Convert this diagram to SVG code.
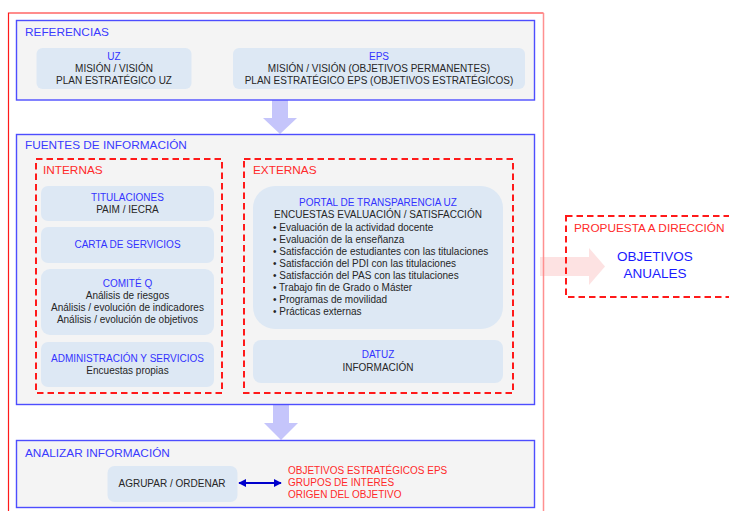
<svg xmlns="http://www.w3.org/2000/svg" width="729" height="511" viewBox="0 0 729 511">
<style>
text{font-family:"Liberation Sans",Arial,sans-serif;font-size:10px;fill:#262626}
.sec{fill:#f4f4f4;stroke:#4d4dff;stroke-width:1.4}
.node{fill:#dde8f4}
.dash{fill:none;stroke:#ff1a1a;stroke-width:2;stroke-dasharray:6.5,4}
.ttl{font-size:11.8px;fill:#3a3aff}
.nt{fill:#3333ff}
.c{text-anchor:middle}
.red{fill:#ff2a2a}
.big{font-size:11.8px;fill:#ff2a2a}
.flow{fill:#c5c5fb}
</style>
<defs>
<marker id="ah" viewBox="0 0 10 10" refX="9" refY="5" markerWidth="4" markerHeight="4" orient="auto-start-reverse">
<path d="M0,0 L10,5 L0,10 z" fill="#0000cc"/>
</marker>
</defs>
<g id="flows">
<path class="flow" d="M272,100 H288 V118 H297 L280,134 L263,118 H272 Z"/>
<path class="flow" d="M273,405 H289 V423 H298 L281,440 L264,423 H273 Z"/>
<path fill="#fde2e2" d="M540,257 H589 V248 L605,266.5 L589,285 V276 H540 Z"/>
</g>
<g id="outer">
<path d="M8.5,515 V13 H543.5" fill="none" stroke="#ff1a1a" stroke-width="1.2"/>
<line x1="543.5" y1="13" x2="543.5" y2="515" stroke="#ff9090" stroke-width="1.5"/>
</g>
<g id="referencias">
<rect class="sec" x="16.5" y="20.5" width="518" height="79.5"/>
<text class="ttl" x="25" y="36">REFERENCIAS</text>
</g>
<g id="uz">
<rect class="node" x="36.5" y="48" width="155" height="41" rx="6"/>
<text class="c nt" x="114" y="60">UZ</text>
<text class="c" x="114" y="72">MISIÓN / VISIÓN</text>
<text class="c" x="114" y="84">PLAN ESTRATÉGICO UZ</text>
</g>
<g id="eps">
<rect class="node" x="233" y="48" width="292" height="41" rx="6"/>
<text class="c nt" x="379" y="60">EPS</text>
<text class="c" x="379" y="72">MISIÓN / VISIÓN (OBJETIVOS PERMANENTES)</text>
<text class="c" x="379" y="84">PLAN ESTRATÉGICO EPS (OBJETIVOS ESTRATÉGICOS)</text>
</g>
<g id="fuentes">
<rect class="sec" x="16.5" y="134.5" width="518" height="270"/>
<text class="ttl" x="25" y="149">FUENTES DE INFORMACIÓN</text>
</g>
<g id="internas">
<rect class="dash" x="36" y="159" width="186" height="234"/>
<text class="big" x="43" y="174">INTERNAS</text>
</g>
<g id="titulaciones">
<rect class="node" x="41" y="186" width="173" height="35" rx="7"/>
<text class="c nt" x="127.5" y="201">TITULACIONES</text>
<text class="c" x="127.5" y="213">PAIM / IECRA</text>
</g>
<g id="carta">
<rect class="node" x="41" y="227" width="173" height="36" rx="7"/>
<text class="c nt" x="127.5" y="248">CARTA DE SERVICIOS</text>
</g>
<g id="comite">
<rect class="node" x="41" y="269" width="173" height="66" rx="9"/>
<text class="c nt" x="127.5" y="287">COMITÉ Q</text>
<text class="c" x="127.5" y="299">Análisis de riesgos</text>
<text class="c" x="127.5" y="311">Análisis / evolución de indicadores</text>
<text class="c" x="127.5" y="323">Análisis / evolución de objetivos</text>
</g>
<g id="admin">
<rect class="node" x="41" y="342" width="173" height="45" rx="7"/>
<text class="c nt" x="127.5" y="362">ADMINISTRACIÓN Y SERVICIOS</text>
<text class="c" x="127.5" y="374">Encuestas propias</text>
</g>
<g id="externas">
<rect class="dash" x="244" y="159" width="269" height="234"/>
<text class="big" x="253" y="174">EXTERNAS</text>
</g>
<g id="portal">
<rect class="node" x="253" y="186" width="250" height="143" rx="22"/>
<text class="c nt" x="378" y="206">PORTAL DE TRANSPARENCIA UZ</text>
<text class="c" x="378" y="218">ENCUESTAS EVALUACIÓN / SATISFACCIÓN</text>
<text x="273" y="231">• Evaluación de la actividad docente</text>
<text x="273" y="243">• Evaluación de la enseñanza</text>
<text x="273" y="255">• Satisfacción de estudiantes con las titulaciones</text>
<text x="273" y="267">• Satisfacción del PDI con las titulaciones</text>
<text x="273" y="279">• Satisfacción del PAS con las titulaciones</text>
<text x="273" y="291">• Trabajo fin de Grado o Máster</text>
<text x="273" y="303">• Programas de movilidad</text>
<text x="273" y="315">• Prácticas externas</text>
</g>
<g id="datuz">
<rect class="node" x="253" y="340" width="250" height="43" rx="8"/>
<text class="c nt" x="378" y="358">DATUZ</text>
<text class="c" x="378" y="371">INFORMACIÓN</text>
</g>
<g id="propuesta">
<rect class="dash" x="566" y="216" width="200" height="81"/>
<text class="big" x="574" y="232">PROPUESTA A DIRECCIÓN</text>
<text class="c" x="655" y="261" style="font-size:13.5px;fill:#1a1aff">OBJETIVOS</text>
<text class="c" x="655" y="278" style="font-size:13.5px;fill:#1a1aff">ANUALES</text>
</g>
<g id="analizar">
<rect class="sec" x="16.5" y="440.5" width="518" height="67"/>
<text class="ttl" x="25" y="457">ANALIZAR INFORMACIÓN</text>
</g>
<g id="agrupar">
<rect class="node" x="107.5" y="466" width="130" height="36" rx="7"/>
<text class="c" x="172" y="487">AGRUPAR / ORDENAR</text>
</g>
<g id="criterios">
<text class="red" x="288" y="474">OBJETIVOS ESTRATÉGICOS EPS</text>
<text class="red" x="288" y="486">GRUPOS DE INTERES</text>
<text class="red" x="288" y="498">ORIGEN DEL OBJETIVO</text>
</g>
<g id="connectors">
<line x1="239" y1="483" x2="281" y2="483" stroke="#0000cc" stroke-width="2" marker-start="url(#ah)" marker-end="url(#ah)"/>
</g>
</svg>
